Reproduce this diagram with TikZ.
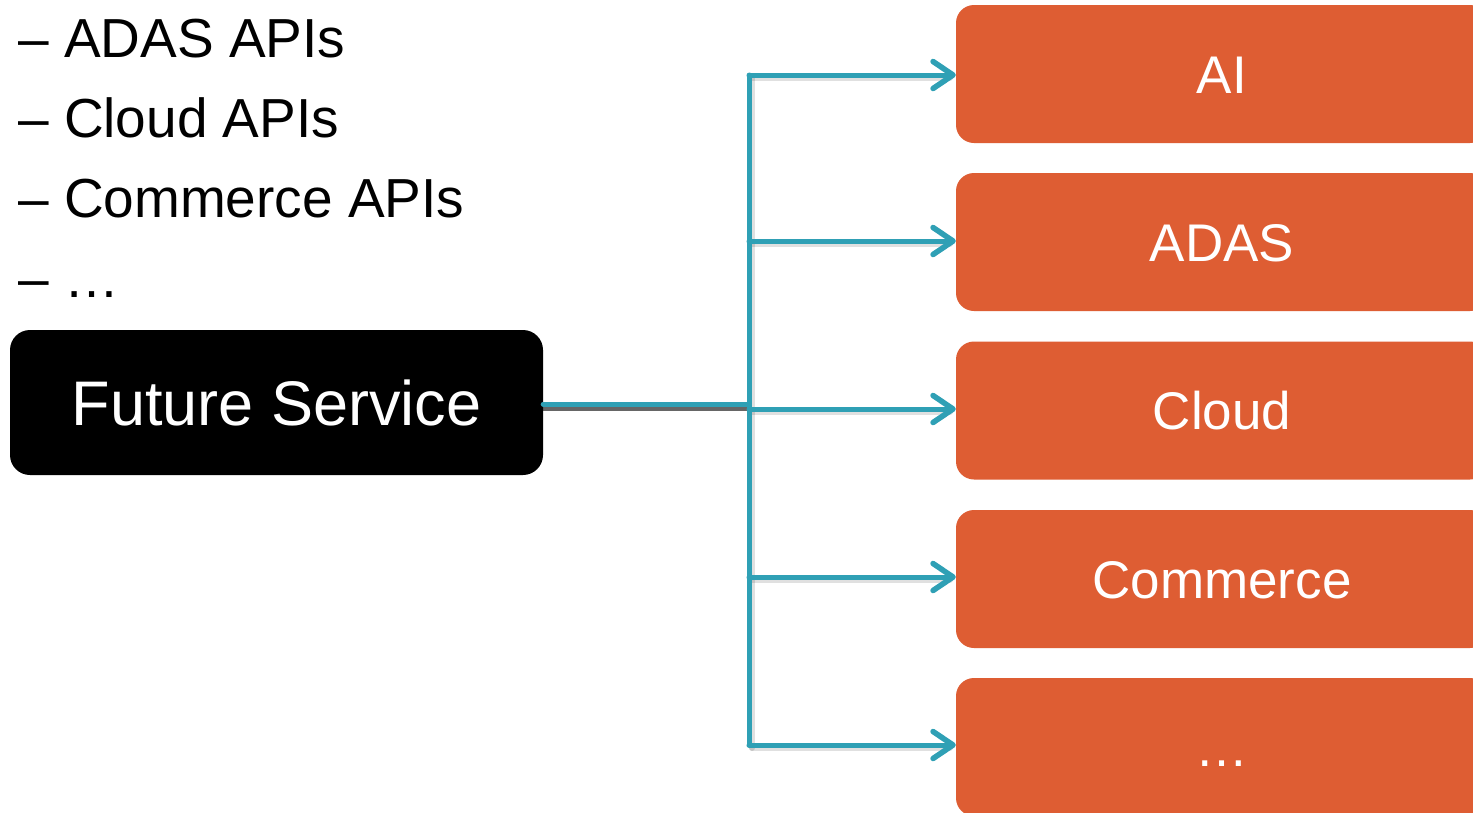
\documentclass[tikz,border=0pt]{standalone}
\usepackage{fontspec}
\setmainfont{Liberation Sans}
\usetikzlibrary{arrows.meta}
\definecolor{boxorange}{HTML}{DE5D33}
\definecolor{connteal}{HTML}{2FA0B5}
\tikzset{
  blackbox/.style={draw=none, fill=black, rounded corners=20pt, minimum width=533pt, minimum height=145pt,
    text=white, font=\fontsize{63}{70}\selectfont, text height=45pt, text depth=0pt, inner sep=0pt},
  obox/.style={draw=none, fill=boxorange, rounded corners=18pt, minimum width=532pt, minimum height=138pt,
    text=white, font=\fontsize{53}{60}\selectfont, text height=38pt, text depth=0pt, inner sep=0pt},
  listitem/.style={anchor=base west, inner sep=0pt, font=\fontsize{55}{62}\selectfont},
  conn/.style={draw=connteal, line width=5pt, line cap=round, line join=round},
  connarrow/.style={conn, -{Straight Barb[length=20pt, width=27pt, line width=5.5pt, line cap=round, line join=round]}},
  connshadow/.style={draw=black, opacity=0.25, line width=6pt, line cap=round},
}
\begin{document}
\begin{tikzpicture}[x=1pt, y=-1pt]
\useasboundingbox (0,0) rectangle (1473,812);
\clip (0,0) rectangle (1473,812);
\fill[white] (0,0) rectangle (1473,812);

% left list
\node[listitem] (l1) at (18,57) {– ADAS APIs};
\node[listitem] (l2) at (18,137) {– Cloud APIs};
\node[listitem] (l3) at (18,217) {– Commerce APIs};
\node[listitem] (l4) at (18,297) {– …};

% boxes
\node[blackbox] (fs) at (276.5,402.5) {Future Service};
\node[obox] (ai) at (1222,74) {AI};
\node[obox] (adas) at (1222,242) {ADAS};
\node[obox] (cloud) at (1222,410.5) {Cloud};
\node[obox] (comm) at (1222,579) {Commerce};
\node[obox] (more) at (1222,747) {…};

% junction coordinates
\coordinate (j) at (749,404);
\coordinate (jtop) at (749,75);
\coordinate (jbot) at (749,745);

% shadows
\draw[connshadow, opacity=0.6, line cap=butt] ([yshift=-4pt]fs.east |- j) -- ([yshift=-4pt]j);
\draw[connshadow, opacity=0.12] ([xshift=3pt,yshift=-3pt]jtop) -- ([xshift=3pt,yshift=-3pt]jbot);
\foreach \yy in {75,241,409,577,745}{
  \draw[connshadow, opacity=0.12] (752,\yy+3) -- (950,\yy+3);
}

% connectors
\draw[conn] (fs.east |- j) -- (j);
\draw[conn] (jtop) -- (jbot);
\draw[connarrow] (jtop) -- (ai.west |- jtop);
\draw[connarrow] (749,241) -- (adas.west |- 0,241);
\draw[connarrow] (749,409) -- (cloud.west |- 0,409);
\draw[connarrow] (749,577) -- (comm.west |- 0,577);
\draw[connarrow] (jbot) -- (more.west |- jbot);
\end{tikzpicture}
\end{document}
